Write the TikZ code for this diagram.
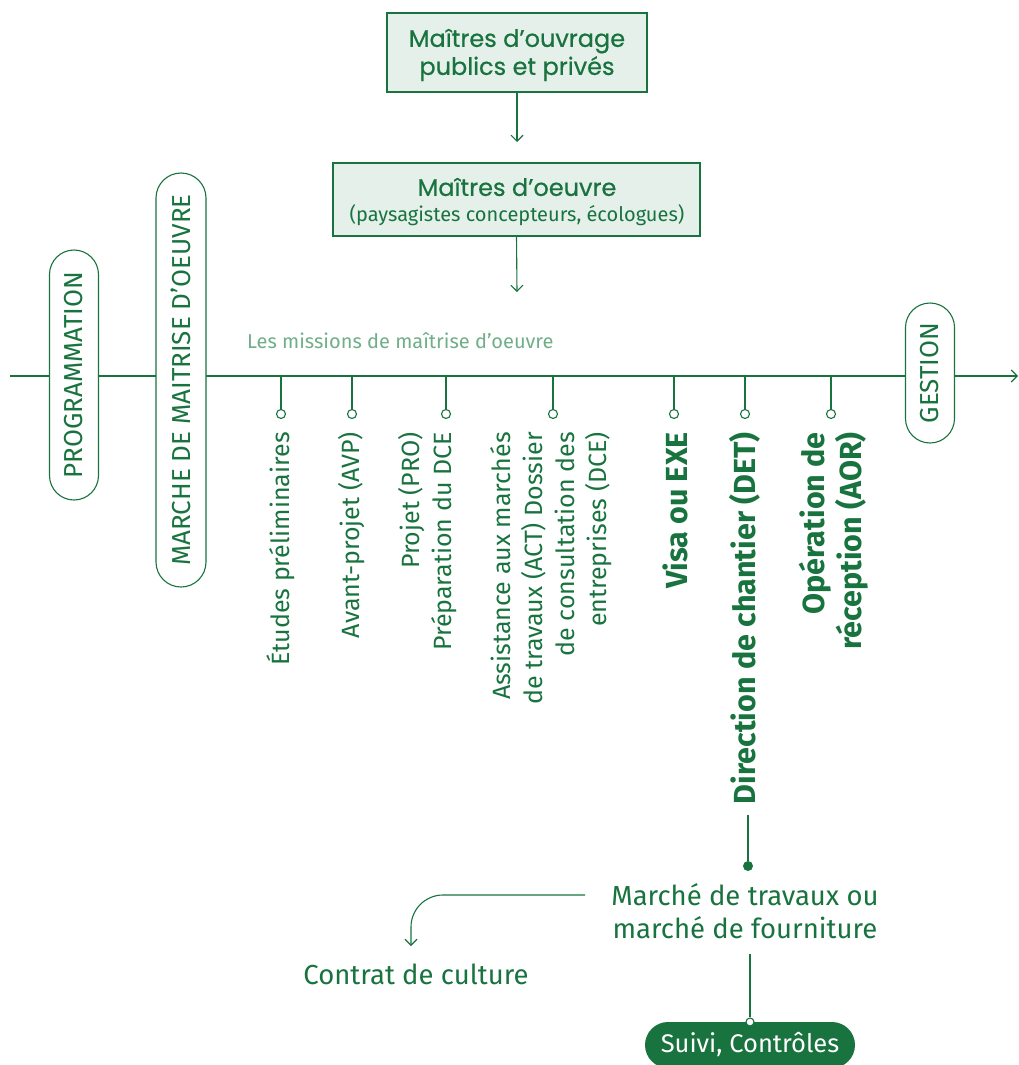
\documentclass[tikz,border=0pt]{standalone}
\usepackage{fontspec}
\setmainfont{Fira Sans}
\newfontfamily\titlefont{Poppins}[FakeBold=0.6]
\usetikzlibrary{arrows.meta}
\definecolor{dg}{HTML}{18733F}
\definecolor{lg}{HTML}{E6F0EA}
\definecolor{tg}{HTML}{6FAE88}
\tikzset{
  conn/.style={draw=dg, line width=1.1pt},
  arr/.style={conn, -{Straight Barb[length=6pt,width=12pt,line width=1.1pt]}},
  topbox/.style={draw=dg, line width=1.1pt, fill=lg, inner sep=0pt, text=dg, align=center},
  pill/.style={draw=dg, line width=1.1pt, fill=white, rotate=90, inner sep=0pt, text=dg,
     font=\fontsize{26}{30}\selectfont},
  vlab/.style={rotate=90, anchor=east, inner sep=0pt, text=dg, align=right,
     font=\fontsize{25}{32}\selectfont},
  blab/.style={vlab, font=\fontsize{30.5}{37}\selectfont\bfseries},
  ring/.style={circle, draw=dg, line width=1.1pt, fill=white, minimum size=9pt, inner sep=0pt},
  dotn/.style={circle, fill=dg, minimum size=10pt, inner sep=0pt},
  txt/.style={text=dg, inner sep=0pt},
}
\begin{document}
\begin{tikzpicture}[x=1pt,y=-1pt]
\useasboundingbox (0,0) rectangle (1019,1065);
% top boxes
\node[topbox, minimum width=260pt, minimum height=79pt] (mo) at (517,52.5) {};
\node[txt, align=center, font=\titlefont\fontsize{24}{28}\selectfont] (mot) at (517,55)
  {Maîtres d’ouvrage\\publics et privés};
\node[topbox, minimum width=367pt, minimum height=73pt] (moe) at (516.5,199.5) {};
\node[txt, font=\titlefont\fontsize{24}{28}\selectfont] (moet) at (517,187) {Maîtres d’oeuvre};
\node[txt, font=\fontsize{20}{24}\selectfont] (moes) at (517,215) {(paysagistes concepteurs, écologues)};
\coordinate (a1) at (517,142);
\coordinate (a2) at (517,292);
\draw[arr] (mo.south) -- (a1);
\draw[arr] (moe.south) -- (a2);
% timeline
\coordinate (tl0) at (10,376);
\coordinate (tl1) at (1018,376);
\draw[arr] (tl0) -- (tl1);
\node[text=tg, font=\fontsize{20}{24}\selectfont, anchor=base west, inner sep=0pt] (lm) at (247,348) {Les missions de maîtrise d’oeuvre};
% pills
\node[pill, minimum width=250pt, minimum height=49pt, rounded corners=24.5pt] (prog) at (74,375) {PROGRAMMATION};
\node[pill, minimum width=414pt, minimum height=50pt, rounded corners=25pt] (mmo) at (181,380) {MARCHE DE MAITRISE D’OEUVRE};
\node[pill, minimum width=140pt, minimum height=49pt, rounded corners=24.5pt] (gest) at (930,373) {GESTION};
% ticks
\foreach \n/\x in {t1/281, t2/352, t3/446, t4/553, t5/674, t6/745, t7/831}{
  \node[ring] (\n) at (\x,414) {};
  \draw[conn, line width=1.5pt] (\n) -- (\n |- tl0);
}
% vertical labels
\node[vlab] (l1) at (281,432) {Études préliminaires};
\node[vlab] (l2) at (352,432) {Avant-projet (AVP)};
\node[vlab] (l3) at (428,432) {Projet (PRO)\\Préparation du DCE};
\node[vlab] (l4) at (551.5,432) {Assistance aux marchés\\de travaux (ACT) Dossier\\de consultation des\\entreprises (DCE)};
\node[blab] (l5) at (675,432) {Visa ou EXE};
\node[blab] (l6) at (745,432) {Direction de chantier (DET)};
\node[blab] (l7) at (833.5,432) {Opération de\\réception (AOR)};
% DET branch
\coordinate (detb) at (748,815);
\node[dotn] (dot) at (748,866) {};
\draw[conn] (detb) -- (dot);
\node[txt, align=center, font=\fontsize{27.5}{33}\selectfont] (mk) at (745,911)
  {Marché de travaux ou\\marché de fourniture};
\coordinate (mk0) at (585,895);
\coordinate (mk1) at (411,895);
\coordinate (cc0) at (411,946);
\draw[arr, rounded corners=32pt] (mk0) -- (mk1) -- (cc0);
\node[txt, font=\fontsize{27.5}{30}\selectfont] (cc) at (416,974) {Contrat de culture};
% suivi
\node[fill=dg, text=white, rounded corners=23pt, minimum width=210pt, minimum height=46pt, inner sep=0pt,
  font=\fontsize{25.5}{28}\selectfont] (sv) at (750,1045) {Suivi, Contrôles};
\coordinate (mkb) at (750,954);
\node[ring, minimum size=8pt] (svr) at (750,1022) {};
\draw[conn] (mkb) -- (svr);
\end{tikzpicture}
\end{document}
